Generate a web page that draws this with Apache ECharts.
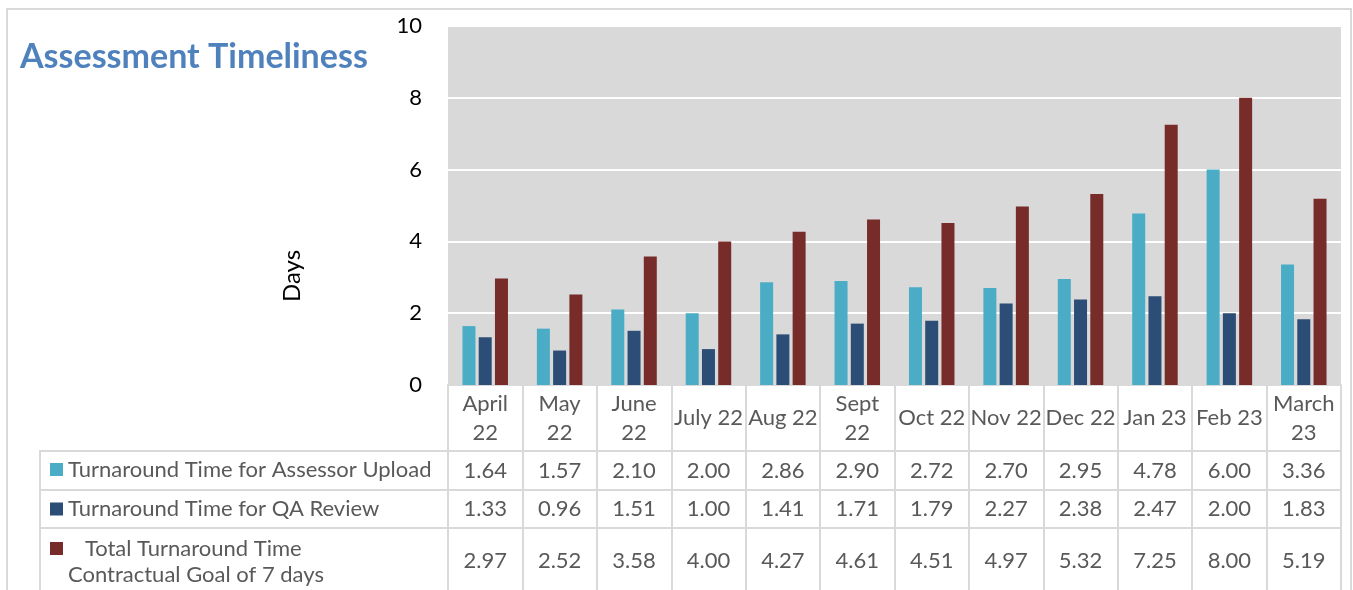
<!DOCTYPE html>
<html>
<head>
<meta charset="utf-8">
<script src="https://cdn.jsdelivr.net/npm/echarts@6/dist/echarts.min.js"></script>
<style>
  html, body { margin: 0; padding: 0; background: #ffffff; }
  #chart { width: 1353px; height: 590px; }
</style>
</head>
<body>
<div id="chart"></div>
<script>
// Monthly turnaround times (days), April 2022 – March 2023
const categories = ['April\n22', 'May\n22', 'June\n22', 'July 22', 'Aug 22', 'Sept\n22',
  'Oct 22', 'Nov 22', 'Dec 22', 'Jan 23', 'Feb 23', 'March\n23'];
const assessorUpload = [1.64, 1.57, 2.10, 2.00, 2.86, 2.90, 2.72, 2.70, 2.95, 4.78, 6.00, 3.36];
const qaReview = [1.33, 0.96, 1.51, 1.00, 1.41, 1.71, 1.79, 2.27, 2.38, 2.47, 2.00, 1.83];
const totalTurnaround = [2.97, 2.52, 3.58, 4.00, 4.27, 4.61, 4.51, 4.97, 5.32, 7.25, 8.00, 5.19];
const yMin = 0, yMax = 10, yStep = 2;

const seriesNames = [
  'Turnaround Time for Assessor Upload',
  'Turnaround Time for QA Review',
  'Total Turnaround Time Contractual Goal of 7 days'
];
const colors = ['#4bacc6', '#2c4d75', '#772c2a'];

const FONT = 'Lato, "Open Sans", sans-serif';
const TABLE_TEXT = '#595959';
const BORDER = '#d9d9d9';
const TABLE_SIZE = 22;

// Plot geometry
const gridLeft = 448, gridRight = 12, gridTop = 26, gridBottom = 205;
const plotBottom = 590 - gridBottom;           // y of the zero line
const rowTops = [plotBottom, 451, 490, 528];    // header, three value rows
const rowBottoms = [451, 490, 528, 600];

// One category axis per table row: labels are the cells, ticks are the cell walls
function tableAxis(data, rowIdx, formatter) {
  const top = rowTops[rowIdx];
  const height = rowBottoms[rowIdx] - top;
  const center = rowIdx === 3 ? 561 : (top + (rowBottoms[rowIdx] - top) / 2);
  return {
    type: 'category',
    gridIndex: 0,
    position: 'bottom',
    offset: top - plotBottom,
    data: data,
    boundaryGap: true,
    axisLine: { show: true, lineStyle: { color: BORDER, width: 2 } },
    axisTick: { show: true, length: height, lineStyle: { color: BORDER, width: 2 } },
    axisLabel: {
      show: true,
      interval: 0,
      margin: center - top,
      verticalAlign: 'middle',
      align: 'center',
      color: TABLE_TEXT,
      fontFamily: FONT,
      fontSize: TABLE_SIZE,
      lineHeight: 29,
      formatter: formatter
    },
    splitLine: { show: false }
  };
}

const fmt2 = v => Number(v).toFixed(2);

const chart = echarts.init(document.getElementById('chart'), null, { renderer: 'canvas' });

chart.setOption({
  animation: false,
  backgroundColor: '#ffffff',
  title: {
    text: 'Assessment Timeliness',
    left: 15,
    top: 35,
    textStyle: { color: '#4f81bd', fontFamily: FONT, fontWeight: 'bold', fontSize: 34 }
  },
  grid: {
    left: gridLeft, right: gridRight, top: gridTop, bottom: gridBottom,
    show: true, backgroundColor: '#d9d9d9', borderWidth: 0
  },
  legend: {
    orient: 'vertical',
    left: 50,
    top: 457,
    padding: 0,
    itemWidth: 13,
    itemHeight: 13,
    itemGap: 14.5,
    icon: 'rect',
    selectedMode: false,
    data: seriesNames,
    textStyle: { color: TABLE_TEXT, fontFamily: FONT, fontSize: TABLE_SIZE, lineHeight: 25 },
    formatter: name => name === seriesNames[2] ? '   Total Turnaround Time' : name
  },
  xAxis: [
    tableAxis(categories, 0),
    tableAxis(assessorUpload, 1, fmt2),
    tableAxis(qaReview, 2, fmt2),
    tableAxis(totalTurnaround, 3, fmt2)
  ],
  yAxis: {
    type: 'value',
    min: yMin, max: yMax, interval: yStep,
    axisLine: { show: false },
    axisTick: { show: false },
    axisLabel: { color: '#000000', fontFamily: FONT, fontSize: 22, margin: 26 },
    splitLine: { show: true, lineStyle: { color: '#ffffff', width: 2 } }
  },
  series: [
    { name: seriesNames[0], type: 'bar', data: assessorUpload, xAxisIndex: 0,
      barWidth: 13, barGap: '25%', itemStyle: { color: colors[0] } },
    { name: seriesNames[1], type: 'bar', data: qaReview, xAxisIndex: 0,
      barWidth: 13, barGap: '25%', itemStyle: { color: colors[1] } },
    { name: seriesNames[2], type: 'bar', data: totalTurnaround, xAxisIndex: 0,
      barWidth: 13, barGap: '25%', itemStyle: { color: colors[2] } }
  ],
  graphic: [
    // outer frame
    { type: 'rect', silent: true, shape: { x: 7, y: 9, width: 1344, height: 600 },
      style: { fill: null, stroke: BORDER, lineWidth: 2 } },
    // left label column of the data table
    { type: 'line', silent: true, shape: { x1: 40, y1: 451, x2: 448, y2: 451 },
      style: { stroke: BORDER, lineWidth: 2 } },
    { type: 'line', silent: true, shape: { x1: 40, y1: 490, x2: 448, y2: 490 },
      style: { stroke: BORDER, lineWidth: 2 } },
    { type: 'line', silent: true, shape: { x1: 40, y1: 528, x2: 448, y2: 528 },
      style: { stroke: BORDER, lineWidth: 2 } },
    { type: 'line', silent: true, shape: { x1: 40, y1: 450, x2: 40, y2: 600 },
      style: { stroke: BORDER, lineWidth: 2 } },
    { type: 'text', silent: true, left: 68, top: 564,
      style: { text: 'Contractual Goal of 7 days', fill: TABLE_TEXT, font: TABLE_SIZE + 'px ' + FONT } },
    // value-axis title
    { type: 'text', silent: true, x: 292, y: 276, rotation: Math.PI / 2,
      style: { text: 'Days', fill: '#000000', font: '24px ' + FONT,
        align: 'center', verticalAlign: 'middle' } }
  ]
});
</script>
</body>
</html>
